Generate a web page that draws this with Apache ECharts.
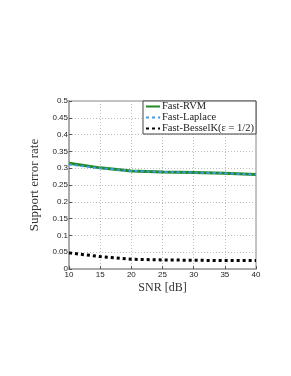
<!DOCTYPE html>
<html><head><meta charset="utf-8">
<script src="https://cdn.jsdelivr.net/npm/echarts@6/dist/echarts.min.js"></script>
<style>html,body{margin:0;padding:0;background:#fff}#c{width:291px;height:376px}</style>
</head><body><div id="c"></div>
<script>
const snr = [10, 15, 20, 25, 30, 35, 40];
const fastRVM = [0.315, 0.301, 0.292, 0.289, 0.287, 0.285, 0.281];
const fastLaplace = [0.311, 0.300, 0.292, 0.289, 0.287, 0.285, 0.281];
const fastBesselK = [0.048, 0.037, 0.029, 0.027, 0.026, 0.025, 0.025];
const names = ['Fast-RVM', 'Fast-Laplace', 'Fast-BesselK(ε = 1/2)'];

const chart = echarts.init(document.getElementById('c'));
const pair = (ys) => snr.map((x, i) => [x, ys[i]]);
chart.setOption({
  animation: false,
  grid: { left: 69, right: 35, top: 101, bottom: 107, show: true, borderColor: '#888', borderWidth: 1 },
  legend: {
    orient: 'vertical', right: 35, top: 101, itemGap: 0, itemWidth: 14, itemHeight: 8,
    borderColor: '#444', borderWidth: 1, padding: [0, 2, 0, 2], backgroundColor: '#fff',
    itemStyle: { opacity: 0 },
    textStyle: { fontFamily: 'Liberation Serif', fontSize: 10.5, lineHeight: 10, color: '#222', padding: [0, 0, 0, -3] },
    data: names
  },
  xAxis: {
    type: 'value', min: 10, max: 40, interval: 5,
    name: 'SNR [dB]', nameLocation: 'middle', nameGap: 13,
    nameTextStyle: { fontFamily: 'Liberation Serif', fontSize: 12, color: '#333' },
    axisLine: { lineStyle: { color: '#aaa', width: 2 } },
    axisTick: { inside: true, length: 3, lineStyle: { color: '#555' } },
    axisLabel: { fontFamily: 'Liberation Sans', fontSize: 8, color: '#222', margin: 2 },
    splitLine: { show: true, lineStyle: { type: [1, 2], color: '#bbb' } }
  },
  yAxis: {
    type: 'value', min: 0, max: 0.5, interval: 0.05,
    name: 'Support error rate', nameLocation: 'middle', nameGap: 21,
    nameTextStyle: { fontFamily: 'Liberation Serif', fontSize: 13, color: '#333' },
    axisLine: { show: true, lineStyle: { color: '#aaa', width: 2 } },
    axisTick: { show: true, inside: true, length: 3, lineStyle: { color: '#555' } },
    axisLabel: { fontFamily: 'Liberation Sans', fontSize: 8, color: '#222', margin: 1,
      formatter: v => String(Math.round(v * 100) / 100) },
    splitLine: { show: true, lineStyle: { type: [1, 2], color: '#bbb' } }
  },
  series: [
    { name: names[0], type: 'line', data: pair(fastRVM), showSymbol: false, symbol: 'none',
      lineStyle: { color: '#228B22', width: 3 }, itemStyle: { color: '#228B22' } },
    { name: names[1], type: 'line', data: pair(fastLaplace), showSymbol: false, symbol: 'none',
      lineStyle: { color: '#3d9bf0', width: 2, type: [3, 3] }, itemStyle: { color: '#3d9bf0' } },
    { name: names[2], type: 'line', data: pair(fastBesselK), showSymbol: false, symbol: 'none',
      lineStyle: { color: '#000', width: 3, type: [3, 3] }, itemStyle: { color: '#000' } }
  ]
});
</script></body></html>
